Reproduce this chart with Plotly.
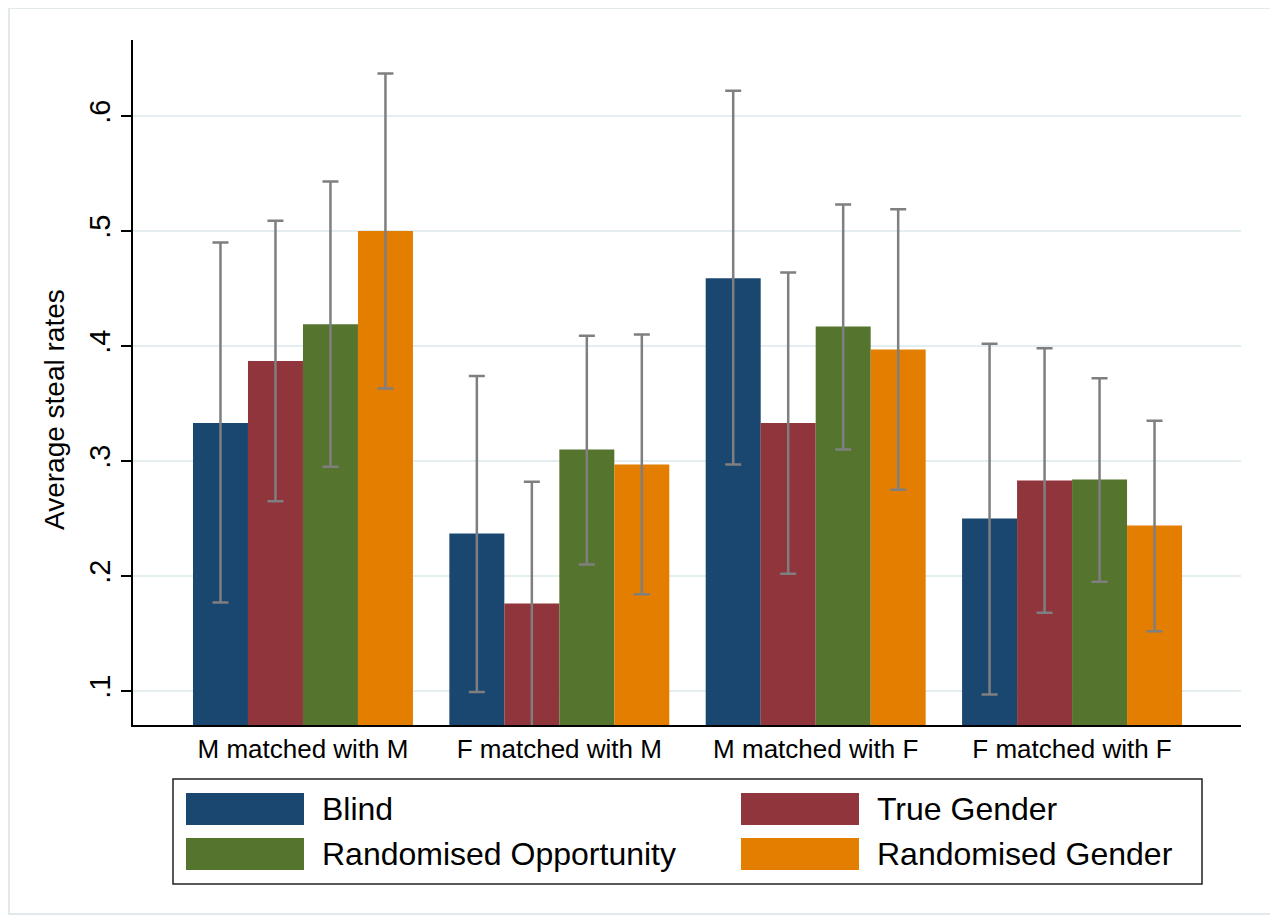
import plotly.graph_objects as go

# ---------------- data ----------------
categories = ["M matched with M", "F matched with M", "M matched with F", "F matched with F"]
series_names = ["Blind", "True Gender", "Randomised Opportunity", "Randomised Gender"]

blind = [0.333, 0.237, 0.459, 0.250]
blind_lo = [0.177, 0.099, 0.297, 0.097]
blind_hi = [0.490, 0.374, 0.622, 0.402]

true_gender = [0.387, 0.176, 0.333, 0.283]
true_gender_lo = [0.265, 0.068, 0.202, 0.168]
true_gender_hi = [0.509, 0.282, 0.464, 0.398]

rand_opp = [0.419, 0.310, 0.417, 0.284]
rand_opp_lo = [0.295, 0.210, 0.310, 0.195]
rand_opp_hi = [0.543, 0.409, 0.523, 0.372]

rand_gender = [0.500, 0.297, 0.397, 0.244]
rand_gender_lo = [0.363, 0.184, 0.275, 0.152]
rand_gender_hi = [0.637, 0.410, 0.519, 0.335]

y_tickvals = [0.1, 0.2, 0.3, 0.4, 0.5, 0.6]
y_ticktext = [".1", ".2", ".3", ".4", ".5", ".6"]

colors = ["#1a476f", "#90353b", "#55752f", "#e37e00"]

means = [blind, true_gender, rand_opp, rand_gender]
lows = [blind_lo, true_gender_lo, rand_opp_lo, rand_gender_lo]
highs = [blind_hi, true_gender_hi, rand_opp_hi, rand_gender_hi]

# ---------------- layout geometry ----------------
OFF = 8                       # browser body margin
W, H = 1278 - OFF, 922 - OFF  # figure size
# plot area, in page pixels
L, R, T, B = 133, 1241, 40, 725
FONT = "Liberation Sans, Arial, Helvetica, sans-serif"


def px_x(px):
    return (px - L) / (R - L)


def px_y(py):
    return (B - py) / (B - T)


fig = go.Figure()
for name, m, lo, hi, c in zip(series_names, means, lows, highs, colors):
    fig.add_trace(go.Bar(
        x=categories, y=m, name=name,
        marker=dict(color=c, line=dict(width=0)),
        error_y=dict(type="data", symmetric=False,
                     array=[h - v for h, v in zip(hi, m)],
                     arrayminus=[v - l for v, l in zip(m, lo)],
                     color="#7f7f7f", thickness=2.5, width=8),
        showlegend=False,
    ))

shapes = []
annotations = []

# outer faint border of graph region
shapes.append(dict(type="rect", xref="paper", yref="paper",
                   x0=px_x(9), x1=px_x(1271), y0=px_y(914), y1=px_y(8),
                   line=dict(color="#e2e9ec", width=2), fillcolor="rgba(0,0,0,0)", layer="below"))

# custom legend (box + swatches + labels)
shapes.append(dict(type="rect", xref="paper", yref="paper",
                   x0=px_x(173), x1=px_x(1202), y0=px_y(884), y1=px_y(779),
                   line=dict(color="#222222", width=1.5), fillcolor="white"))
col_x = [186, 741]
row_y = [793, 838]
sw_w, sw_h = 118, 32
for i, (name, c) in enumerate(zip(series_names, colors)):
    cx = col_x[i % 2]
    ry = row_y[i // 2]
    shapes.append(dict(type="rect", xref="paper", yref="paper",
                       x0=px_x(cx), x1=px_x(cx + sw_w), y0=px_y(ry + sw_h), y1=px_y(ry),
                       line=dict(width=0), fillcolor=c))
    annotations.append(dict(xref="paper", yref="paper", x=px_x(cx + sw_w + 16), y=px_y(ry + sw_h / 2),
                            text=name, showarrow=False, xanchor="left", yanchor="middle",
                            font=dict(family=FONT, size=32, color="black")))

# y-axis title
annotations.append(dict(xref="paper", yref="paper", x=px_x(54), y=px_y(410),
                        text="Average steal rates", textangle=-90, showarrow=False,
                        xanchor="center", yanchor="middle",
                        font=dict(family=FONT, size=28, color="black")))

fig.update_layout(
    width=W, height=H,
    margin=dict(l=L - OFF, r=W - (R - OFF), t=T - OFF, b=H - (B - OFF), pad=0),
    paper_bgcolor="white", plot_bgcolor="white",
    barmode="group", bargap=0.142, bargroupgap=0,
    font=dict(family=FONT, color="black"),
    shapes=shapes, annotations=annotations,
    xaxis=dict(range=[-0.663, 3.659], showline=True, linecolor="black", linewidth=1.5,
               ticks="", showgrid=False, zeroline=False,
               tickfont=dict(family=FONT, size=26, color="black")),
    yaxis=dict(range=[0.0704, 0.6661], tickvals=y_tickvals, ticktext=y_ticktext,
               tickangle=-90, ticks="outside", ticklen=10, tickwidth=1.5, tickcolor="black",
               showline=True, linecolor="black", linewidth=1.5,
               showgrid=True, gridcolor="#e4edf0", gridwidth=2, zeroline=False,
               tickfont=dict(family=FONT, size=29, color="black")),
)

fig.write_html("out.html")
